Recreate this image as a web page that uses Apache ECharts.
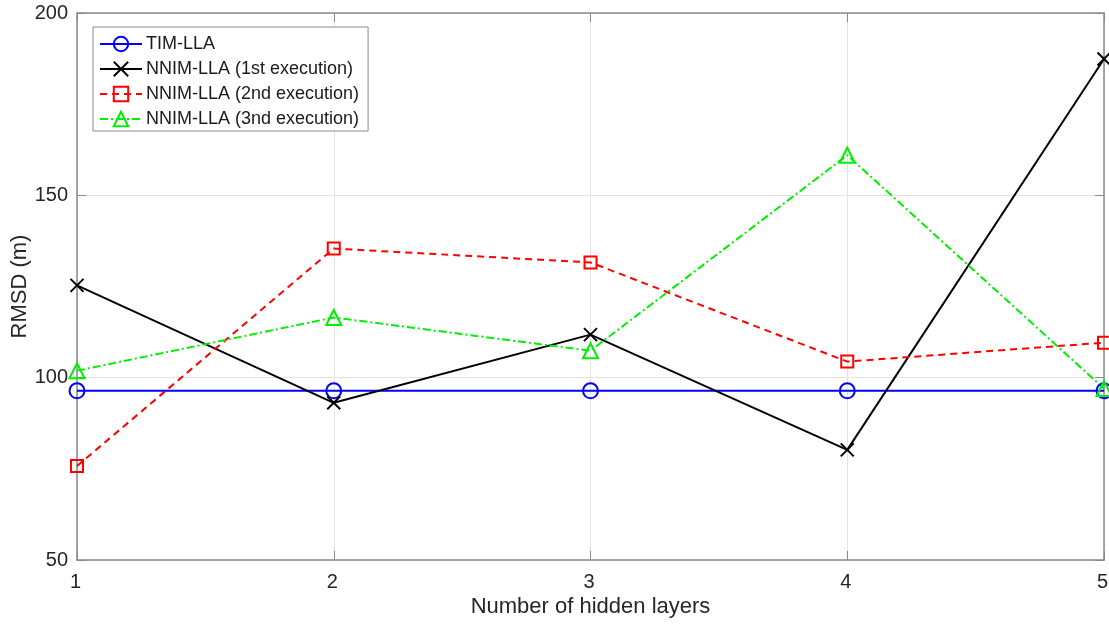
<!DOCTYPE html>
<html><head><meta charset="utf-8">
<script src="https://cdn.jsdelivr.net/npm/echarts@6/dist/echarts.min.js"></script>
<style>html,body{margin:0;padding:0;background:#fff}#c{width:1109px;height:624px}</style>
</head><body><div id="c"></div>
<script>
const layers = [1, 2, 3, 4, 5];
const timLLA = [96.4, 96.4, 96.4, 96.4, 96.4];
const nnim1 = [125.3, 93.1, 111.8, 80.2, 187.4];
const nnim2 = [75.8, 135.4, 131.6, 104.4, 109.6];
const nnim3 = [101.9, 116.5, 107.4, 161.0, 97.0];
const yTicks = [50, 100, 150, 200];
const names = ['TIM-LLA', 'NNIM-LLA (1st execution)', 'NNIM-LLA (2nd execution)', 'NNIM-LLA (3nd execution)'];

const pair = arr => layers.map((x, i) => [x, arr[i]]);
const font = 'Liberation Sans, Arial, Helvetica, sans-serif';
const axisGray = '#8a8a8a';
const xMark = 'path://M0,0L10,10M10,0L0,10';

function mk(name, data, color, type, symbol, size) {
  return {
    name, type: 'line', data: pair(data), symbol, symbolSize: size,
    lineStyle: { color, width: 2, type },
    itemStyle: { color: 'rgba(0,0,0,0)', borderColor: color, borderWidth: 2 },
    emphasis: { disabled: true }, z: 3
  };
}

const chart = echarts.init(document.getElementById('c'), null, { renderer: 'canvas' });
chart.setOption({
  animation: false,
  backgroundColor: '#fff',
  textStyle: { fontFamily: font },
  grid: { left: 77, right: 5, top: 13, bottom: 64, containLabel: false, outerBoundsMode: 'none' },
  legend: {
    orient: 'vertical', left: 93, top: 27,
    padding: [8, 9, 3, 6], itemGap: 7, itemWidth: 42, itemHeight: 18,
    backgroundColor: '#fff', borderColor: '#8a8a8a', borderWidth: 1,
    textStyle: { fontSize: 18, color: '#1a1a1a', fontFamily: font, padding: [0, 0, 0, -1] },
    data: names
  },
  xAxis: [{
    type: 'value', min: 1, max: 5, interval: 1,
    name: 'Number of hidden layers', nameLocation: 'middle', nameGap: 36, nameMoveOverlap: false,
    nameTextStyle: { fontSize: 22, color: '#262626', fontFamily: font },
    axisLine: { show: true, lineStyle: { color: axisGray, width: 1.5 } },
    axisTick: { show: true, inside: true, length: 9, lineStyle: { color: axisGray } },
    axisLabel: { fontSize: 20, color: '#262626', margin: 12, fontFamily: font, padding: [0, 3, 0, 0] },
    splitLine: { show: true, lineStyle: { color: '#e3e3e3', width: 1 } }
  }, {
    type: 'value', min: 1, max: 5, interval: 1, position: 'top',
    axisLine: { show: true, onZero: false, lineStyle: { color: axisGray, width: 1.5 } },
    axisTick: { show: true, inside: true, length: 9, lineStyle: { color: axisGray } },
    axisLabel: { show: false }, splitLine: { show: false }
  }],
  yAxis: [{
    type: 'value', min: 50, max: 200, interval: 50,
    name: 'RMSD (m)', nameLocation: 'middle', nameGap: 46, nameRotate: 90, nameMoveOverlap: false,
    nameTextStyle: { fontSize: 22, color: '#262626', fontFamily: font },
    axisLine: { show: true, lineStyle: { color: axisGray, width: 1.5 } },
    axisTick: { show: true, inside: true, length: 9, lineStyle: { color: axisGray } },
    axisLabel: { fontSize: 20, color: '#262626', margin: 9, fontFamily: font,
      formatter: v => yTicks.includes(v) ? String(v) : '' },
    splitLine: { show: true, lineStyle: { color: '#e3e3e3', width: 1 } }
  }, {
    type: 'value', min: 50, max: 200, interval: 50, position: 'right',
    axisLine: { show: true, onZero: false, lineStyle: { color: axisGray, width: 1.5 } },
    axisTick: { show: true, inside: true, length: 9, lineStyle: { color: axisGray } },
    axisLabel: { show: false }, splitLine: { show: false }
  }],
  series: [
    mk(names[0], timLLA, '#0000ff', 'solid', 'circle', 15),
    mk(names[1], nnim1, '#000000', 'solid', xMark, 13),
    mk(names[2], nnim2, '#ff0000', [7, 5], 'rect', 12),
    mk(names[3], nnim3, '#00ee00', [8, 3, 2, 3], 'triangle', 15)
  ]
});
</script></body></html>
